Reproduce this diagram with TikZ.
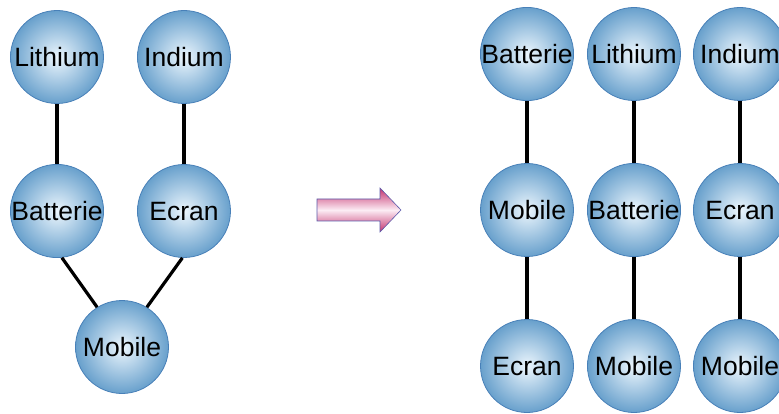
\documentclass[tikz,border=0pt]{standalone}
\usepackage{fontspec}
\setmainfont{Liberation Sans}
\definecolor{ballout}{RGB}{104,160,204}
\definecolor{ballin}{RGB}{236,246,253}
\definecolor{ballrim}{RGB}{72,128,184}
\definecolor{arrdark}{RGB}{196,50,110}
\definecolor{arrlight}{RGB}{252,236,244}
\definecolor{arrrim}{RGB}{90,90,170}
\tikzset{
  ball/.style={circle, minimum size=93pt, inner sep=0pt, draw=ballrim, line width=0.8pt,
    inner color=ballin, outer color=ballout,
    font=\fontsize{26.5}{30}\selectfont, text=black, text height=19pt, text depth=0pt},
  link/.style={line width=3.2pt, black}
}
\begin{document}
\begin{tikzpicture}[x=1pt,y=-1pt]
\useasboundingbox (0,0) rectangle (779,414);
% left graph
\node[ball] (li) at (57,57) {Lithium};
\node[ball] (in) at (184,57) {Indium};
\node[ball] (ba) at (57,211) {Batterie};
\node[ball] (ec) at (184,211) {Ecran};
\node[ball] (mo) at (122,347) {Mobile};
\draw[link] (li) -- (ba);
\draw[link] (in) -- (ec);
\draw[link] (ba.-84) -- (mo.122);
\draw[link] (ec.-92) -- (mo.58);
% arrow
\path[draw=arrrim, line width=0.6pt, top color=arrdark, bottom color=arrdark, middle color=arrlight]
  (317,199) -- (380,199) -- (380,188) -- (401,210) -- (380,232) -- (380,221) -- (317,221) -- cycle;
% right graph
\node[ball] (rba) at (527,54) {Batterie};
\node[ball] (rmo) at (527,210) {Mobile};
\node[ball] (rec) at (527,366) {Ecran};
\node[ball] (rli) at (634,54) {Lithium};
\node[ball] (rba2) at (634,210) {Batterie};
\node[ball] (rmo2) at (634,366) {Mobile};
\node[ball] (rin) at (740,54) {Indium};
\node[ball] (rec2) at (740,210) {Ecran};
\node[ball] (rmo3) at (740,366) {Mobile};
\draw[link] (rba) -- (rmo);
\draw[link] (rmo) -- (rec);
\draw[link] (rli) -- (rba2);
\draw[link] (rba2) -- (rmo2);
\draw[link] (rin) -- (rec2);
\draw[link] (rec2) -- (rmo3);
\end{tikzpicture}
\end{document}
